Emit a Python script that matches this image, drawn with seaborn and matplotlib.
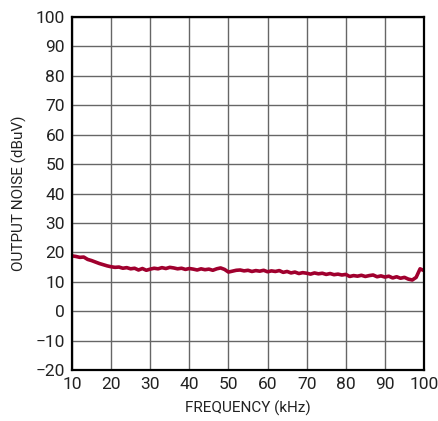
import numpy as np
import pandas as pd
import matplotlib
matplotlib.use("Agg")
import matplotlib.pyplot as plt
import seaborn as sns

# data (1 kHz steps)
freq_khz = list(range(10, 101))
noise_dbuv = [
    18.8, 18.6, 18.3, 18.4, 17.6, 17.2, 16.7, 16.2, 15.8, 15.4,
    15.1, 14.9, 15.0, 14.6, 14.8, 14.4, 14.6, 14.0, 14.5, 13.9,
    14.3, 14.6, 14.4, 14.8, 14.5, 14.9, 14.7, 14.4, 14.6, 14.2,
    14.5, 14.3, 14.0, 14.4, 14.1, 14.3, 13.9, 14.4, 14.7, 14.2,
    13.3, 13.6, 13.9, 14.0, 13.7, 13.9, 13.5, 13.8, 13.6, 13.9,
    13.4, 13.7, 13.5, 13.8, 13.2, 13.5, 13.0, 13.3, 12.8, 13.1,
    12.9, 12.6, 13.0, 12.7, 12.9, 12.5, 12.8, 12.4, 12.6, 12.3,
    12.5, 11.8, 12.1, 11.9, 12.2, 11.8, 12.1, 12.3, 11.7, 12.0,
    11.6, 11.9, 11.3, 11.7, 11.2, 11.5, 10.9, 10.6, 11.5, 14.4,
    13.8,
]
x_ticks = list(range(10, 101, 10))
y_ticks = list(range(-20, 101, 10))

df = pd.DataFrame({"freq": freq_khz, "noise": noise_dbuv})

sns.set_style("white")
plt.rcParams["font.family"] = ["Roboto", "DejaVu Sans"]

fig = plt.figure(figsize=(4.38, 4.21), dpi=100)
ax = fig.add_axes([0.1644, 0.1211, 0.8036, 0.8385])

sns.lineplot(data=df, x="freq", y="noise", color="#a0002e", linewidth=2.6, ax=ax)

ax.set_xlim(10, 100)
ax.set_ylim(-20, 100)
ax.set_xticks(x_ticks)
ax.set_yticks(y_ticks)
ax.grid(True, color="#666666", linewidth=1.0)
for s in ax.spines.values():
    s.set_color("black")
    s.set_linewidth(1.6)
ax.tick_params(axis="both", labelsize=12.5, length=0, pad=5, colors="#222222")
ax.set_xlabel("FREQUENCY (kHz)", fontsize=11, color="#222222", labelpad=6)
ax.set_ylabel("OUTPUT NOISE (dBuV)", fontsize=11, color="#222222", labelpad=6)

fig.savefig("out.png", dpi=100)
